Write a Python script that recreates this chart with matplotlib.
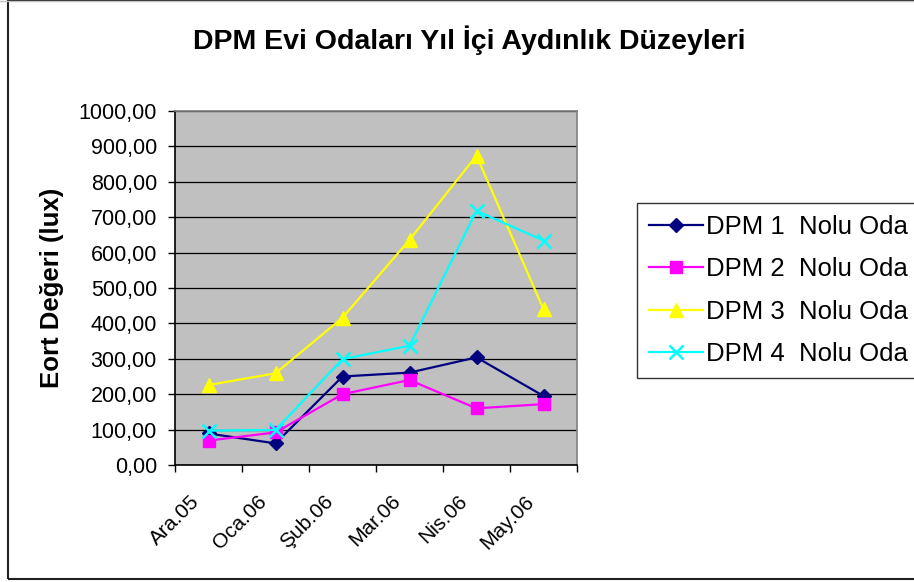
import numpy as np
import matplotlib
matplotlib.use('Agg')
import matplotlib.pyplot as plt
import matplotlib.transforms as mtransforms
from matplotlib.patches import Rectangle

plt.rcParams['font.family'] = ['Liberation Sans', 'DejaVu Sans']

# aylik ortalama aydinlik degerleri (lux)
aylar = ['Ara.05', 'Oca.06', 'Şub.06', 'Mar.06', 'Nis.06', 'May.06']
oda1 = [89, 61, 250, 261, 304, 195]
oda2 = [69, 92, 200, 240, 160, 172]
oda3 = [226, 259, 416, 636, 874, 440]
oda4 = [97, 99, 299, 337, 718, 634]
etiketler = ['DPM 1  Nolu Oda', 'DPM 2  Nolu Oda', 'DPM 3  Nolu Oda', 'DPM 4  Nolu Oda']
y_ticks = [0, 100, 200, 300, 400, 500, 600, 700, 800, 900, 1000]

fig = plt.figure(figsize=(9.14, 5.82), dpi=100)
W, H = 914, 582

# grafik cercevesi
fig.patches.append(Rectangle((8 / W, 1 - 579 / H), 1.0, 579 / H, transform=fig.transFigure,
                             fill=False, edgecolor='#202020', linewidth=1.5, zorder=0))
fig.add_artist(plt.Line2D([0, 1], [1 - 0.5 / H, 1 - 0.5 / H], transform=fig.transFigure,
                          color='#c0c0c0', linewidth=1))

ax = fig.add_axes([175 / W, 1 - 465 / H, 402 / W, 354 / H])
ax.set_facecolor('#c0c0c0')

x = np.arange(len(aylar))
stiller = [
    dict(color='#000080', marker='D', markersize=7.5),
    dict(color='#ff00ff', marker='s', markersize=8),
    dict(color='#ffff00', marker='^', markersize=10.5),
    dict(color='#00ffff', marker='x', markersize=10, markeredgewidth=1.8),
]
for veri, etiket, st in zip([oda1, oda2, oda3, oda4], etiketler, stiller):
    ax.plot(x, veri, linewidth=1.6, label=etiket, clip_on=False, **st)

ax.set_xlim(-0.5, len(aylar) - 0.5)
ax.set_ylim(0, 1000)

ax.set_yticks(y_ticks)
ax.set_yticklabels([f'{v:.2f}'.replace('.', ',') for v in y_ticks])
ax.yaxis.grid(True, color='black', linewidth=0.9)
ax.set_axisbelow(True)
ax.tick_params(axis='y', direction='out', length=5, width=1, pad=8, labelsize=15.5)

# kategori sinirlarinda tik, ortasinda etiket
ax.set_xticks(np.arange(-0.5, len(aylar)), labels=[])
ax.set_xticks(x, minor=True)
ax.set_xticklabels(aylar, minor=True, rotation=45, ha='right', va='center',
                   rotation_mode='anchor', fontsize=15)
ax.tick_params(axis='x', which='major', direction='out', length=5, width=1)
ax.tick_params(axis='x', which='minor', length=0, pad=24)
ofs = mtransforms.ScaledTranslation(-12 / 100, 0, fig.dpi_scale_trans)
for lbl in ax.get_xticklabels(minor=True):
    lbl.set_transform(lbl.get_transform() + ofs)

for s in ['left', 'bottom']:
    ax.spines[s].set_color('black')
    ax.spines[s].set_linewidth(1.2)
for s in ['top', 'right']:
    ax.spines[s].set_color('#808080')
    ax.spines[s].set_linewidth(1.2)

ax.set_ylabel('Eort Değeri (lux)', fontsize=18.5, fontweight='bold')
ax.yaxis.label.set_va('center')
ax.yaxis.set_label_coords((52 - 175) / 402, 0.5)

fig.text(469 / W, 1 - 40 / H, 'DPM Evi Odaları Yıl İçi Aydınlık Düzeyleri',
         ha='center', va='center', fontsize=20.5, fontweight='bold')

leg = ax.legend(loc='upper left', bbox_to_anchor=(637 / W, 1 - 203 / H),
                bbox_transform=fig.transFigure, fontsize=18.5, frameon=True,
                fancybox=False, handlelength=2.1, handletextpad=0.15,
                labelspacing=0.72, borderpad=0.45, borderaxespad=0)
leg.get_frame().set_edgecolor('black')
leg.get_frame().set_linewidth(1)

fig.savefig('out.png', dpi=100)
